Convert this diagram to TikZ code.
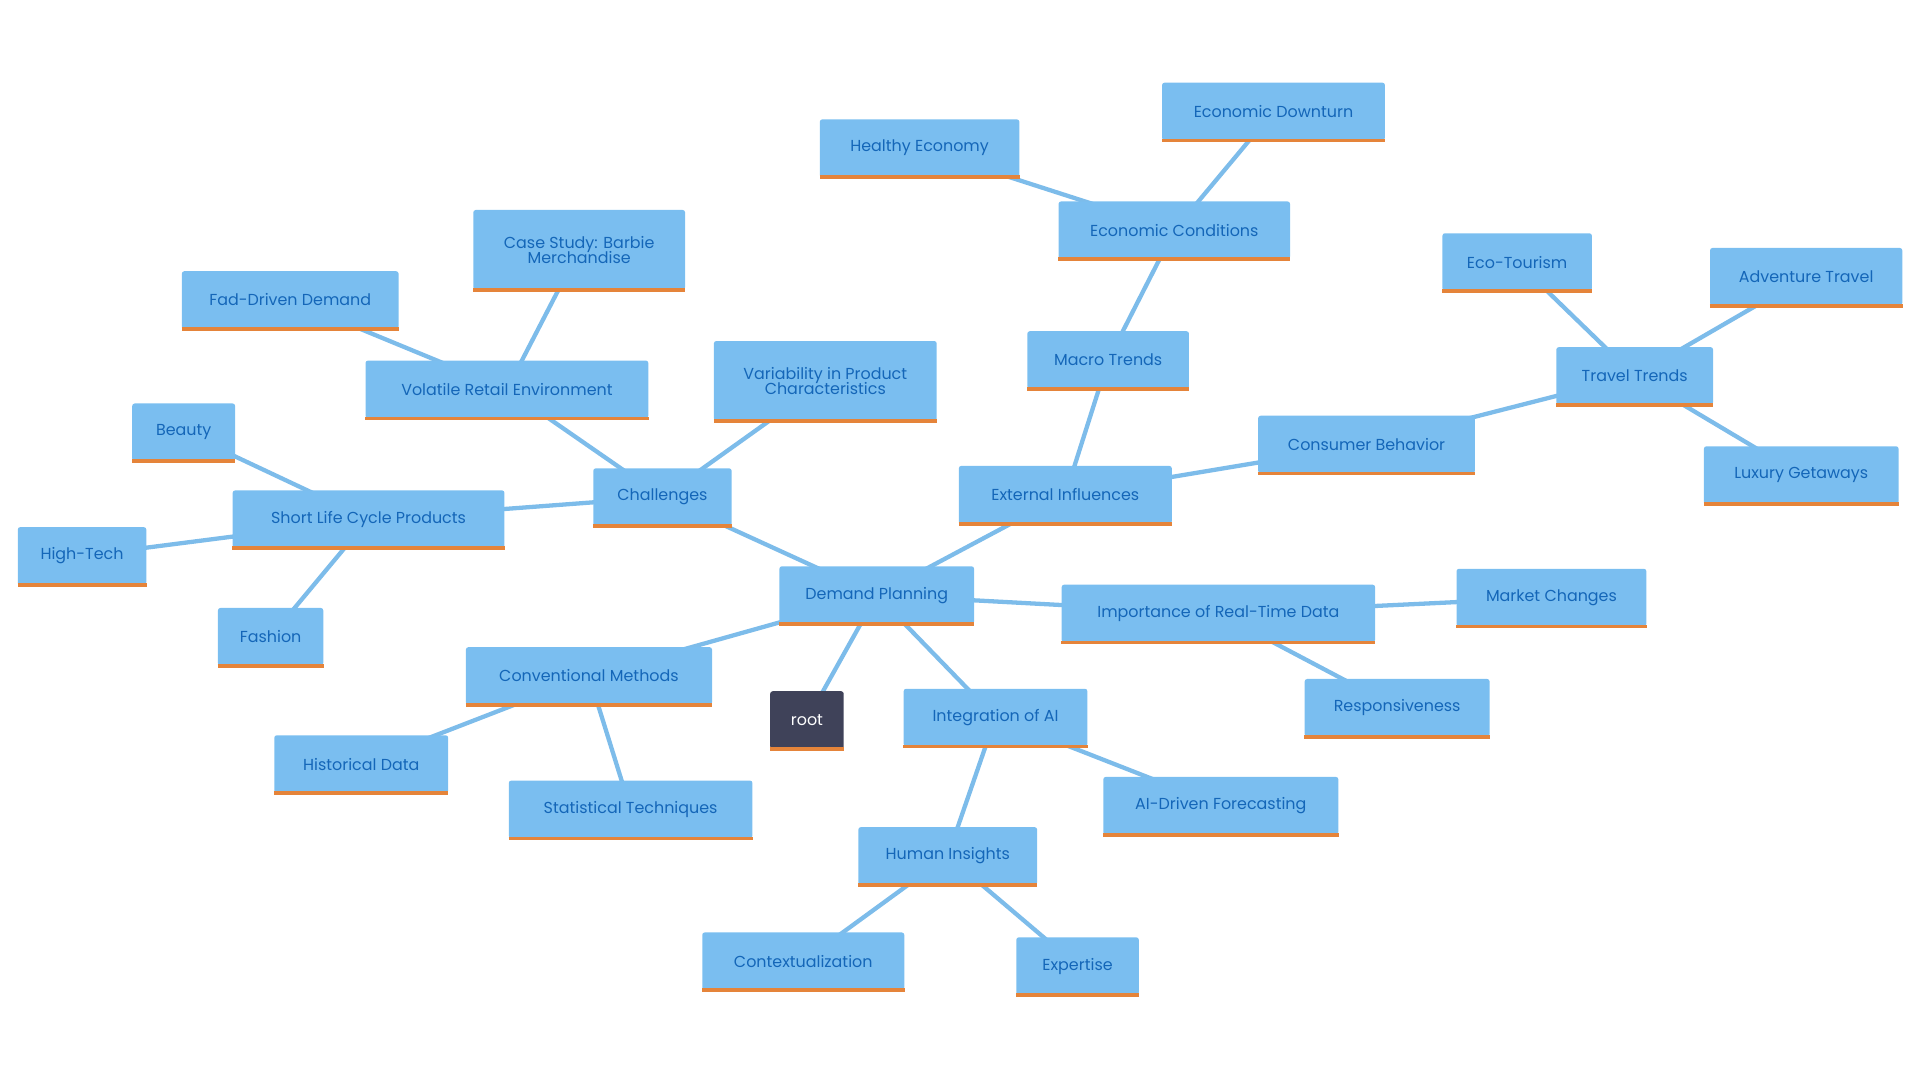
\documentclass[tikz,border=0pt]{standalone}
\usepackage{fontspec}
\setmainfont{Poppins}
\usetikzlibrary{backgrounds}
\definecolor{boxfill}{HTML}{7ABEF0}
\definecolor{boxtext}{HTML}{1466B8}
\definecolor{edgec}{HTML}{7DBCEA}
\definecolor{orangec}{HTML}{E5843A}
\definecolor{rootc}{HTML}{3F4259}
\tikzset{
 box/.style={fill=boxfill,text=boxtext,rounded corners=2pt,minimum height=47pt,inner sep=0pt,align=center,font=\fontsize{13}{15}\selectfont},
 rootbox/.style={box,fill=rootc,text=white},
 link/.style={draw=edgec,line width=3.5pt},
 uline/.style={draw=orangec,line width=3pt}
}
\begin{document}
\begin{tikzpicture}[x=1pt,y=-1pt]
\useasboundingbox (0,0) rectangle (1568,882);
\node[box,minimum width=159] (dp) at (716,486) {Demand Planning};
\node[rootbox,minimum width=60] (root) at (659,588) {root};
\node[box,minimum width=113] (ch) at (541,406) {Challenges};
\node[box,minimum width=174] (ext) at (870,404) {External Influences};
\node[box,minimum width=256] (rt) at (995,501) {Importance of Real-Time Data};
\node[box,minimum width=150] (ai) at (813,586) {Integration of AI};
\node[box,minimum width=201] (cm) at (481,552) {Conventional Methods};
\node[box,minimum width=222] (sl) at (301,424) {Short Life Cycle Products};
\node[box,minimum width=231] (vr) at (414,318) {Volatile Retail Environment};
\node[box,minimum width=182,minimum height=65] (vp) at (674,311) {Variability in Product\\[-3pt]Characteristics};
\node[box,minimum width=173,minimum height=65] (cs) at (473,204) {Case Study: Barbie\\[-3pt]Merchandise};
\node[box,minimum width=177] (fd) at (237,245) {Fad-Driven Demand};
\node[box,minimum width=84] (be) at (150,353) {Beauty};
\node[box,minimum width=105] (ht) at (67,454) {High-Tech};
\node[box,minimum width=86] (fa) at (221,520) {Fashion};
\node[box,minimum width=142] (hd) at (295,624) {Historical Data};
\node[box,minimum width=199] (st) at (515,661) {Statistical Techniques};
\node[box,minimum width=146] (hi) at (774,699) {Human Insights};
\node[box,minimum width=192] (af) at (997,658) {AI-Driven Forecasting};
\node[box,minimum width=165] (co) at (656,785) {Contextualization};
\node[box,minimum width=100] (ex) at (880,789) {Expertise};
\node[box,minimum width=155] (mc) at (1267,488) {Market Changes};
\node[box,minimum width=151] (re) at (1141,578) {Responsiveness};
\node[box,minimum width=177] (cb) at (1116,363) {Consumer Behavior};
\node[box,minimum width=128] (tt) at (1335,307) {Travel Trends};
\node[box,minimum width=122] (et) at (1239,214) {Eco-Tourism};
\node[box,minimum width=157] (at) at (1475,226) {Adventure Travel};
\node[box,minimum width=159] (lg) at (1471,388) {Luxury Getaways};
\node[box,minimum width=132] (mt) at (905,294) {Macro Trends};
\node[box,minimum width=189] (ec) at (959,188) {Economic Conditions};
\node[box,minimum width=163] (he) at (751,121) {Healthy Economy};
\node[box,minimum width=182] (ed) at (1040,91) {Economic Downturn};
\foreach \n in {dp,root,ch,ext,rt,ai,cm,sl,vr,vp,cs,fd,be,ht,fa,hd,st,hi,af,co,ex,mc,re,cb,tt,et,at,lg,mt,ec,he,ed}
  \draw[uline] (\n.south west) -- (\n.south east);
\begin{scope}[on background layer]
\draw[link] (dp.center) -- (root.center);
\draw[link] (dp.center) -- (ch.center);
\draw[link] (dp.center) -- (ext.center);
\draw[link] (dp.center) -- (rt.center);
\draw[link] (dp.center) -- (ai.center);
\draw[link] (dp.center) -- (cm.center);
\draw[link] (ch.center) -- (sl.center);
\draw[link] (ch.center) -- (vr.center);
\draw[link] (ch.center) -- (vp.center);
\draw[link] (vr.center) -- (cs.center);
\draw[link] (vr.center) -- (fd.center);
\draw[link] (sl.center) -- (be.center);
\draw[link] (sl.center) -- (ht.center);
\draw[link] (sl.center) -- (fa.center);
\draw[link] (cm.center) -- (hd.center);
\draw[link] (cm.center) -- (st.center);
\draw[link] (ai.center) -- (hi.center);
\draw[link] (ai.center) -- (af.center);
\draw[link] (hi.center) -- (co.center);
\draw[link] (hi.center) -- (ex.center);
\draw[link] (rt.center) -- (mc.center);
\draw[link] (rt.center) -- (re.center);
\draw[link] (ext.center) -- (cb.center);
\draw[link] (ext.center) -- (mt.center);
\draw[link] (cb.center) -- (tt.center);
\draw[link] (tt.center) -- (et.center);
\draw[link] (tt.center) -- (at.center);
\draw[link] (tt.center) -- (lg.center);
\draw[link] (mt.center) -- (ec.center);
\draw[link] (ec.center) -- (he.center);
\draw[link] (ec.center) -- (ed.center);
\end{scope}
\end{tikzpicture}
\end{document}
